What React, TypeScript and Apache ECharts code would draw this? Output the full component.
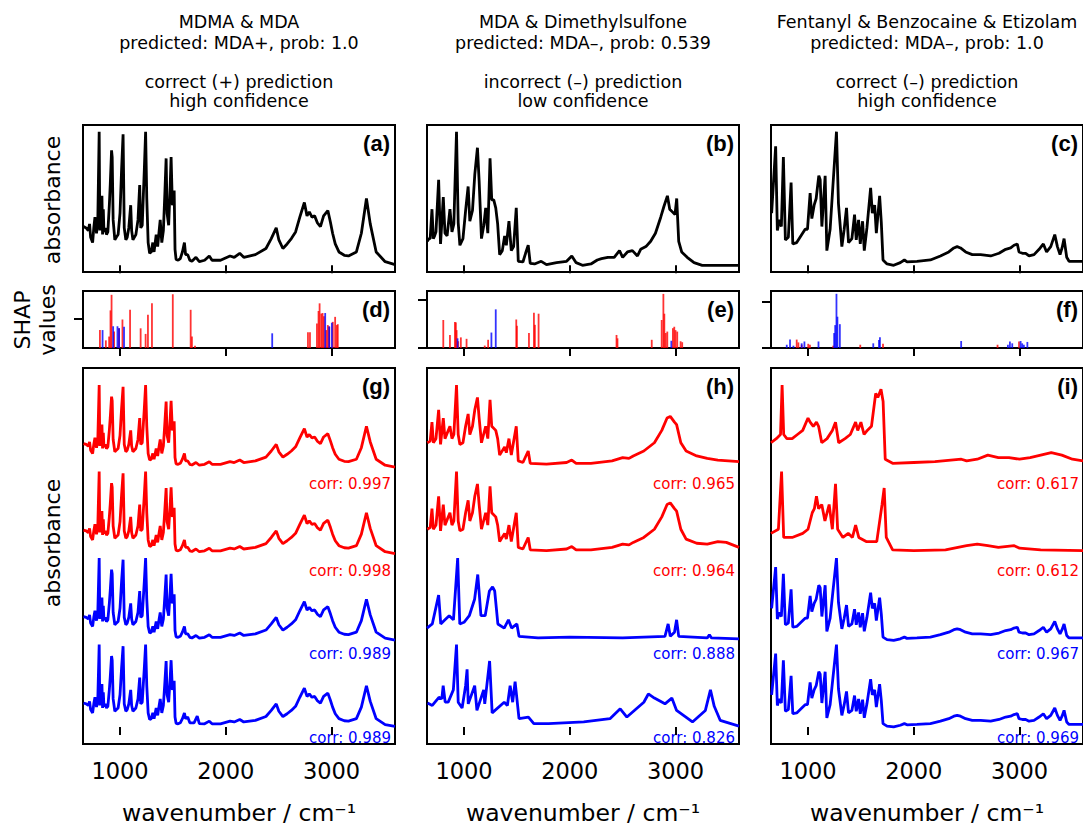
import React, { useEffect, useRef } from "react";
import * as echarts from "echarts";

const X_MIN = 650;
const X_MAX = 3600;
const X_TICKS = [1000, 2000, 3000];

const COLUMN_TITLES = [
  ["MDMA & MDA", "predicted: MDA+, prob: 1.0", "correct (+) prediction", "high confidence"],
  ["MDA & Dimethylsulfone", "predicted: MDA\u2013, prob: 0.539", "incorrect (\u2013) prediction", "low confidence"],
  ["Fentanyl & Benzocaine & Etizolam", "predicted: MDA\u2013, prob: 1.0", "correct (\u2013) prediction", "high confidence"],
];
const PANEL_LETTERS = [["(a)", "(d)", "(g)"], ["(b)", "(e)", "(h)"], ["(c)", "(f)", "(i)"]];
const CORR_VALUES = [
  ["corr: 0.997", "corr: 0.998", "corr: 0.989", "corr: 0.989"],
  ["corr: 0.965", "corr: 0.964", "corr: 0.888", "corr: 0.826"],
  ["corr: 0.617", "corr: 0.612", "corr: 0.967", "corr: 0.969"],
];
const STACK_COLORS = ["#ff0000", "#ff0000", "#0000ff", "#0000ff"];
const STACK_OFFSETS = [3.15, 2.1, 1.05, 0];

// ---- query spectra (normalised absorbance) ----
const SPEC_A = [[655,.29],[680,.28],[700,.26],[712,.31],[722,.21],[741,.17],[752,.28],[763,.36],[778,.24],[790,.34],[803,1.0],[809,.26],[816,.45],[822,.28],[829,.52],[835,.23],[842,.42],[848,.25],[860,.28],[872,.23],[885,.25],[899,.45],[908,.61],[920,.86],[926,.81],[935,.34],[951,.19],[965,.21],[982,.23],[1000,.39],[1015,.72],[1029,.98],[1040,.28],[1055,.19],[1068,.21],[1083,.28],[1101,.45],[1110,.26],[1122,.19],[1150,.23],[1170,.34],[1186,.6],[1196,.28],[1210,.3],[1230,.72],[1242,1.0],[1253,.5],[1266,.17],[1280,.09],[1295,.1],[1310,.17],[1322,.1],[1342,.23],[1356,.14],[1370,.26],[1380,.34],[1395,.17],[1410,.26],[1425,.56],[1436,.8],[1445,.39],[1460,.3],[1475,.61],[1483,.81],[1495,.45],[1505,.5],[1512,.56],[1520,.12],[1530,.044],[1550,.038],[1570,.05],[1590,.1],[1609,.17],[1620,.08],[1640,.08],[1660,.038],[1680,.03],[1718,.06],[1750,.027],[1800,.038],[1844,.07],[1870,.038],[1950,.038],[2040,.07],[2080,.06],[2132,.09],[2170,.06],[2280,.08],[2380,.126],[2430,.2],[2477,.28],[2502,.19],[2540,.126],[2580,.16],[2620,.2],[2660,.25],[2700,.36],[2743,.47],[2768,.37],[2790,.4],[2815,.36],[2840,.37],[2865,.32],[2895,.29],[2925,.37],[2965,.41],[2990,.32],[3010,.24],[3035,.16],[3070,.1],[3120,.075],[3160,.07],[3235,.1],[3282,.24],[3330,.5],[3366,.31],[3422,.1],[3507,.027],[3600,.005]];
const SPEC_B = [[653,.18],[670,.2],[680,.2],[697,.42],[710,.2],[722,.22],[735,.25],[760,.64],[778,.16],[804,.51],[820,.24],[840,.22],[867,.42],[886,.25],[904,.31],[929,1.0],[945,.32],[961,.15],[990,.2],[1015,.41],[1039,.59],[1055,.33],[1080,.41],[1102,.68],[1127,.88],[1143,.63],[1165,.2],[1187,.3],[1205,.43],[1225,.24],[1246,.8],[1262,.49],[1281,.49],[1300,.43],[1318,.31],[1337,.08],[1362,.11],[1384,.22],[1400,.15],[1425,.33],[1447,.11],[1469,.14],[1494,.43],[1513,.03],[1557,.025],[1582,.09],[1607,.15],[1626,.015],[1667,.01],[1730,.03],[1780,.005],[1875,.02],[1970,.03],[2019,.07],[2060,.02],[2120,0],[2200,.01],[2260,.04],[2300,.05],[2360,.06],[2420,.06],[2470,.11],[2500,.06],[2545,.1],[2592,.11],[2640,.07],[2670,.12],[2720,.14],[2765,.18],[2810,.24],[2860,.36],[2890,.44],[2923,.52],[2945,.42],[2970,.4],[2995,.38],[3011,.5],[3030,.18],[3058,.1],[3110,.06],[3175,.02],[3252,0],[3440,0],[3600,0]];
const SPEC_C = [[656,.39],[694,.89],[710,.26],[729,.34],[748,.29],[767,.81],[786,.19],[814,.21],[840,.62],[856,.16],[893,.17],[941,.23],[973,.27],[995,.27],[1020,.54],[1036,.35],[1058,.45],[1077,.5],[1102,.67],[1115,.64],[1131,.29],[1162,.67],[1178,.11],[1209,.27],[1235,.59],[1269,1.0],[1288,.46],[1320,.14],[1342,.27],[1364,.43],[1383,.17],[1415,.2],[1440,.38],[1456,.19],[1478,.34],[1494,.16],[1516,.33],[1532,.11],[1557,.28],[1592,.58],[1608,.39],[1630,.45],[1646,.24],[1677,.52],[1693,.32],[1709,.04],[1747,.01],[1810,0],[1873,.02],[1911,.04],[1936,.025],[2030,.03],[2157,.04],[2252,.07],[2331,.1],[2379,.13],[2410,.14],[2442,.13],[2490,.1],[2553,.08],[2632,.08],[2727,.07],[2806,.09],[2869,.12],[2916,.13],[2948,.15],[2979,.16],[2995,.1],[3027,.09],[3058,.09],[3090,.07],[3137,.08],[3185,.12],[3225,.16],[3256,.1],[3295,.14],[3333,.23],[3358,.14],[3383,.08],[3402,.13],[3421,.2],[3446,.06],[3468,.03],[3515,.03],[3608,.03]];

// ---- reference spectra (bottom panels) ----
const G_RED1 = SPEC_A;
const G_RED2 = SPEC_A;
const G_BLUE1 = SPEC_A;
const G_BLUE2 = [[655,.29],[680,.28],[700,.26],[712,.31],[722,.21],[741,.17],[752,.28],[763,.36],[778,.24],[790,.34],[803,1.0],[809,.26],[816,.45],[822,.28],[829,.52],[835,.23],[842,.42],[848,.25],[860,.28],[872,.23],[885,.25],[899,.45],[908,.61],[920,.86],[926,.81],[935,.34],[951,.19],[965,.21],[982,.23],[1000,.39],[1015,.72],[1029,.98],[1040,.28],[1055,.19],[1068,.21],[1083,.28],[1101,.45],[1110,.26],[1122,.19],[1150,.23],[1170,.34],[1186,.6],[1196,.28],[1210,.3],[1230,.72],[1242,1.0],[1253,.5],[1266,.17],[1280,.09],[1295,.1],[1310,.17],[1322,.1],[1342,.23],[1356,.14],[1370,.26],[1380,.34],[1395,.17],[1410,.26],[1425,.56],[1436,.8],[1445,.39],[1460,.3],[1475,.61],[1483,.81],[1495,.45],[1505,.5],[1512,.56],[1520,.12],[1530,.044],[1550,.038],[1570,.05],[1590,.1],[1609,.17],[1620,.1],[1640,.12],[1660,.05],[1700,.05],[1730,.13],[1750,.04],[1800,.038],[1844,.07],[1870,.038],[1950,.038],[2040,.07],[2080,.06],[2132,.09],[2170,.06],[2280,.08],[2380,.126],[2430,.2],[2477,.28],[2502,.19],[2540,.126],[2580,.16],[2620,.2],[2660,.25],[2700,.36],[2743,.47],[2768,.37],[2790,.4],[2815,.36],[2840,.37],[2865,.32],[2895,.29],[2925,.37],[2965,.41],[2990,.32],[3010,.24],[3035,.16],[3070,.1],[3120,.075],[3160,.07],[3235,.1],[3282,.24],[3330,.5],[3366,.31],[3422,.1],[3507,.027],[3600,.005]];

const H_RED1 = [[653,.3],[680,.32],[697,.55],[710,.3],[735,.35],[760,.7],[778,.28],[804,.6],[820,.35],[867,.5],[886,.35],[904,.4],[929,1.0],[945,.4],[961,.28],[990,.3],[1015,.5],[1039,.65],[1055,.4],[1080,.5],[1102,.7],[1127,.85],[1143,.6],[1165,.3],[1205,.5],[1225,.35],[1246,.82],[1262,.5],[1300,.45],[1318,.35],[1337,.15],[1384,.25],[1400,.18],[1425,.35],[1447,.15],[1494,.5],[1513,.08],[1557,.06],[1607,.2],[1626,.05],[1780,.04],[1970,.06],[2019,.09],[2060,.05],[2200,.05],[2400,.08],[2500,.12],[2560,.11],[2600,.14],[2700,.2],[2800,.3],[2870,.45],[2920,.6],[2950,.62],[2990,.55],[3010,.52],[3050,.3],[3100,.2],[3200,.14],[3300,.11],[3400,.09],[3600,.07]];
const H_RED2 = [[653,.3],[680,.32],[697,.55],[710,.3],[735,.35],[760,.7],[778,.28],[804,.6],[820,.35],[867,.5],[886,.35],[904,.4],[929,1.0],[945,.4],[961,.28],[990,.3],[1015,.5],[1039,.65],[1055,.4],[1080,.5],[1102,.7],[1127,.85],[1143,.6],[1165,.3],[1205,.5],[1225,.35],[1246,.82],[1262,.5],[1300,.45],[1318,.35],[1337,.15],[1384,.25],[1400,.18],[1425,.35],[1447,.15],[1494,.5],[1513,.08],[1557,.06],[1607,.2],[1626,.05],[1780,.04],[1970,.06],[2019,.09],[2060,.05],[2200,.05],[2400,.08],[2500,.12],[2560,.11],[2600,.14],[2700,.2],[2800,.3],[2870,.45],[2920,.6],[2950,.62],[2990,.55],[3010,.52],[3050,.3],[3100,.18],[3200,.13],[3300,.12],[3400,.15],[3480,.14],[3600,.08]];
const H_BLUE1 = [[650,.15],[700,.2],[760,.55],[780,.2],[820,.25],[860,.3],[900,.25],[940,1.0],[960,.2],[1000,.22],[1050,.3],[1100,.5],[1130,.8],[1160,.3],[1200,.3],[1240,.6],[1270,.65],[1290,.6],[1320,.2],[1380,.15],[1420,.25],[1450,.15],[1500,.2],[1520,.05],[1700,.03],[2000,.04],[2500,.03],[2900,.05],[2930,.2],[2950,.05],[2990,.1],[3010,.25],[3030,.05],[3300,.03],[3320,.07],[3340,.03],[3600,.02]];
const H_BLUE2 = [[655,.29],[700,.26],[763,.36],[790,.34],[803,.5],[822,.3],[850,.3],[899,.45],[929,1.0],[945,.3],[982,.23],[1015,.5],[1029,.7],[1040,.28],[1101,.5],[1122,.2],[1186,.45],[1196,.28],[1242,.8],[1266,.17],[1380,.3],[1410,.26],[1436,.5],[1460,.3],[1483,.55],[1520,.1],[1609,.12],[1660,.04],[1800,.04],[2132,.06],[2380,.1],[2477,.22],[2540,.12],[2700,.3],[2743,.4],[2800,.35],[2900,.28],[2965,.35],[3010,.2],[3160,.06],[3282,.2],[3330,.45],[3366,.25],[3422,.08],[3600,.01]];

const I_RED1 = [[650,.3],[700,.35],[740,.4],[755,1.0],[770,.4],[800,.35],[850,.35],[900,.4],[950,.45],[1000,.6],[1020,.55],[1050,.5],[1080,.55],[1100,.5],[1130,.3],[1180,.35],[1230,.45],[1260,.55],[1290,.3],[1350,.35],[1400,.4],[1450,.55],[1470,.45],[1500,.55],[1530,.4],[1560,.45],[1600,.5],[1640,.9],[1660,.85],[1690,.95],[1710,.8],[1730,.1],[1800,.05],[2000,.06],[2200,.07],[2450,.1],[2500,.08],[2600,.1],[2700,.15],[2800,.12],[2900,.12],[3000,.1],[3100,.12],[3200,.15],[3300,.18],[3400,.15],[3500,.1],[3600,.08]];
const I_RED2 = [[650,.25],[720,.3],[750,1.0],[770,.2],[850,.2],[950,.25],[1000,.3],[1040,.5],[1060,.55],[1080,.7],[1100,.55],[1130,.6],[1160,.4],[1200,.6],[1230,.3],[1260,.85],[1280,.3],[1330,.2],[1380,.25],[1420,.2],[1450,.35],[1480,.2],[1550,.15],[1650,.15],[1700,.6],[1720,.8],[1740,.2],[1800,.05],[2000,.04],[2300,.05],[2500,.1],[2600,.12],[2700,.1],[2800,.08],[2950,.1],[3000,.07],[3200,.05],[3600,.04]];
const I_BLUE1 = SPEC_C;
const I_BLUE2 = SPEC_C;

// ---- SHAP values (relative to the single y tick) ----
const D_RED = [[810,.61],[866,.26],[897,.39],[910,1.28],[920,1.81],[944,.56],[991,.67],[1023,.97],[1095,1.3],[1195,.67],[1242,.48],[1264,1.13],[1302,1.52],[1499,1.83],[1668,1.3],[1680,.39],[1709,.08],[2777,.54],[2796,.54],[2862,.83],[2877,1.26],[2887,1.52],[2903,1.17],[2915,1.19],[2928,1.08],[2950,.61],[2965,.78],[2978,.72],[3012,.89],[3034,1.06],[3050,.78],[3059,.81]];
const D_BLUE = [[835,.61],[935,.74],[976,.74],[991,.67],[1038,.72],[2439,.5],[2940,1.19],[2978,.74],[3003,.86]];
const E_RED = [[804,.58],[867,.27],[914,.54],[923,.53],[930,.37],[945,.14],[970,.22],[1024,.19],[1196,.05],[1228,.17],[1494,.59],[1500,.46],[1614,.31],[1661,.73],[1670,.48],[1705,.71],[2442,.27],[2451,.2],[2775,.17],[2869,.58],[2885,1.12],[2894,.71],[2907,.31],[2922,.34],[2975,.41],[2988,.44],[3000,.37],[3016,.34],[3048,.14],[3063,.12]];
const E_BLUE = [[939,.2],[1259,.32],[1300,.8],[2960,.15]];
const F_RED = [[893,.18],[909,.12],[940,.07],[1002,.09],[1018,.07],[1238,.05],[1494,.07],[1709,.09],[2792,.07],[2995,.14]];
const F_BLUE = [[799,.07],[830,.18],[862,.05],[940,.1],[966,.14],[1099,.14],[1247,.32],[1257,.49],[1269,1.16],[1278,.67],[1301,.51],[1617,.1],[1671,.17],[1680,.23],[2448,.15],[2890,.07],[2909,.14],[2931,.1],[3010,.15],[3025,.1],[3041,.07],[3074,.13]];

const QUERY = [SPEC_A, SPEC_B, SPEC_C];
const STACKS = [
  [G_RED1, G_RED2, G_BLUE1, G_BLUE2],
  [H_RED1, H_RED2, H_BLUE1, H_BLUE2],
  [I_RED1, I_RED2, I_BLUE1, I_BLUE2],
];
const SHAP = [
  { red: D_RED, blue: D_BLUE, max: 1.94, ticks: [1] },
  { red: E_RED, blue: E_BLUE, max: 1.18, ticks: [0, 1] },
  { red: F_RED, blue: F_BLUE, max: 1.22, ticks: [0, 1] },
];

const FONT = "DejaVu Sans";
const COL_LEFT = [83, 427, 771];
const COL_W = 312;
const ROWS = [
  { top: 125, h: 147, min: -0.05, max: 1.05 },
  { top: 291, h: 57 },
  { top: 368, h: 378, min: -0.2075, max: 4.3575 },
];
const CORR_Y = [484, 571, 654, 738];

function buildOption() {
  const grid: any[] = [];
  const xAxis: any[] = [];
  const yAxis: any[] = [];
  const series: any[] = [];
  const elements: any[] = [];

  for (let c = 0; c < 3; c++) {
    for (let r = 0; r < 3; r++) {
      const gi = c * 3 + r;
      const row = ROWS[r];
      grid.push({
        left: COL_LEFT[c], top: row.top, width: COL_W, height: row.h,
        show: true, borderColor: "#000", borderWidth: 2, backgroundColor: "transparent",
        containLabel: false,
      });
      xAxis.push({
        type: "value", gridIndex: gi, min: X_MIN, max: X_MAX,
        axisLine: { show: false },
        splitLine: { show: false },
        axisTick: { show: true, inside: false, length: 8, customValues: X_TICKS, lineStyle: { color: "#000", width: 2 } },
        axisLabel: {
          show: r === 2, customValues: X_TICKS, fontSize: 22.5, fontFamily: FONT, color: "#000", margin: 15,
          formatter: (v: number) => String(v),
        },
        name: r === 2 ? "wavenumber / cm\u207B\u00B9" : "",
        nameLocation: "middle", nameGap: 57,
        nameTextStyle: { fontSize: 23.5, fontFamily: FONT, color: "#000" },
      });
      const sh = SHAP[c];
      yAxis.push({
        type: "value", gridIndex: gi,
        min: r === 1 ? 0 : row.min, max: r === 1 ? sh.max : row.max,
        axisLine: { show: false }, splitLine: { show: false },
        axisTick: { show: r === 1, inside: false, length: 9, customValues: sh.ticks, lineStyle: { color: "#000", width: 2 } },
        axisLabel: { show: false },
      });
      if (r === 0) {
        series.push({
          type: "line", xAxisIndex: gi, yAxisIndex: gi, data: QUERY[c], showSymbol: false,
          lineStyle: { color: "#000", width: 2.8 }, silent: true, z: 3,
        });
      } else if (r === 1) {
        series.push({
          type: "bar", xAxisIndex: gi, yAxisIndex: gi, data: sh.red, barWidth: 1.8, barGap: "-100%",
          itemStyle: { color: "rgba(255,0,0,0.8)" }, silent: true,
        });
        series.push({
          type: "bar", xAxisIndex: gi, yAxisIndex: gi, data: sh.blue, barWidth: 1.8, barGap: "-100%",
          itemStyle: { color: "rgba(0,0,255,0.8)" }, silent: true,
        });
      } else {
        STACKS[c].forEach((spec, k) => {
          series.push({
            type: "line", xAxisIndex: gi, yAxisIndex: gi,
            data: spec.map(([x, y]) => [x, y + STACK_OFFSETS[k]]),
            showSymbol: false, lineStyle: { color: STACK_COLORS[k], width: 2.8 }, silent: true, z: 3,
          });
          elements.push({
            type: "text", x: COL_LEFT[c] + COL_W - 4, y: CORR_Y[k],
            style: { text: CORR_VALUES[c][k], fontSize: 15, fontFamily: FONT, fill: STACK_COLORS[k], textAlign: "right", textVerticalAlign: "middle" },
          });
        });
      }
      elements.push({
        type: "text", x: COL_LEFT[c] + COL_W - 5, y: row.top + 18, z: 10,
        style: { text: PANEL_LETTERS[c][r], fontSize: 22, fontWeight: "bold", fontFamily: "Liberation Sans", fill: "#000", textAlign: "right", textVerticalAlign: "middle" },
      });
    }
    const cx = COL_LEFT[c] + COL_W / 2;
    const ys = [22, 43, 82, 101];
    COLUMN_TITLES[c].forEach((t, i) => {
      elements.push({
        type: "text", x: cx, y: ys[i],
        style: { text: t, fontSize: 17.5, fontFamily: FONT, fill: "#000", textAlign: "center", textVerticalAlign: "middle" },
      });
    });
  }

  const ylab = (text: string, x: number, y: number) => ({
    type: "text", x, y, rotation: Math.PI / 2,
    style: { text, fontSize: 22, fontFamily: FONT, fill: "#000", textAlign: "center", textVerticalAlign: "middle" },
  });
  elements.push(ylab("absorbance", 52, 200));
  elements.push(ylab("SHAP", 22, 320));
  elements.push(ylab("values", 47, 320));
  elements.push(ylab("absorbance", 52, 543));

  return {
    animation: false,
    backgroundColor: "#fff",
    grid, xAxis, yAxis, series,
    graphic: { elements },
  };
}

export default function App() {
  const ref = useRef<HTMLDivElement>(null);
  useEffect(() => {
    if (!ref.current) return;
    const chart = echarts.init(ref.current, undefined, { renderer: "svg" });
    chart.setOption(buildOption() as any);
    return () => chart.dispose();
  }, []);
  return <div ref={ref} style={{ position: "absolute", left: 0, top: 0, width: 1083, height: 826 }} />;
}
